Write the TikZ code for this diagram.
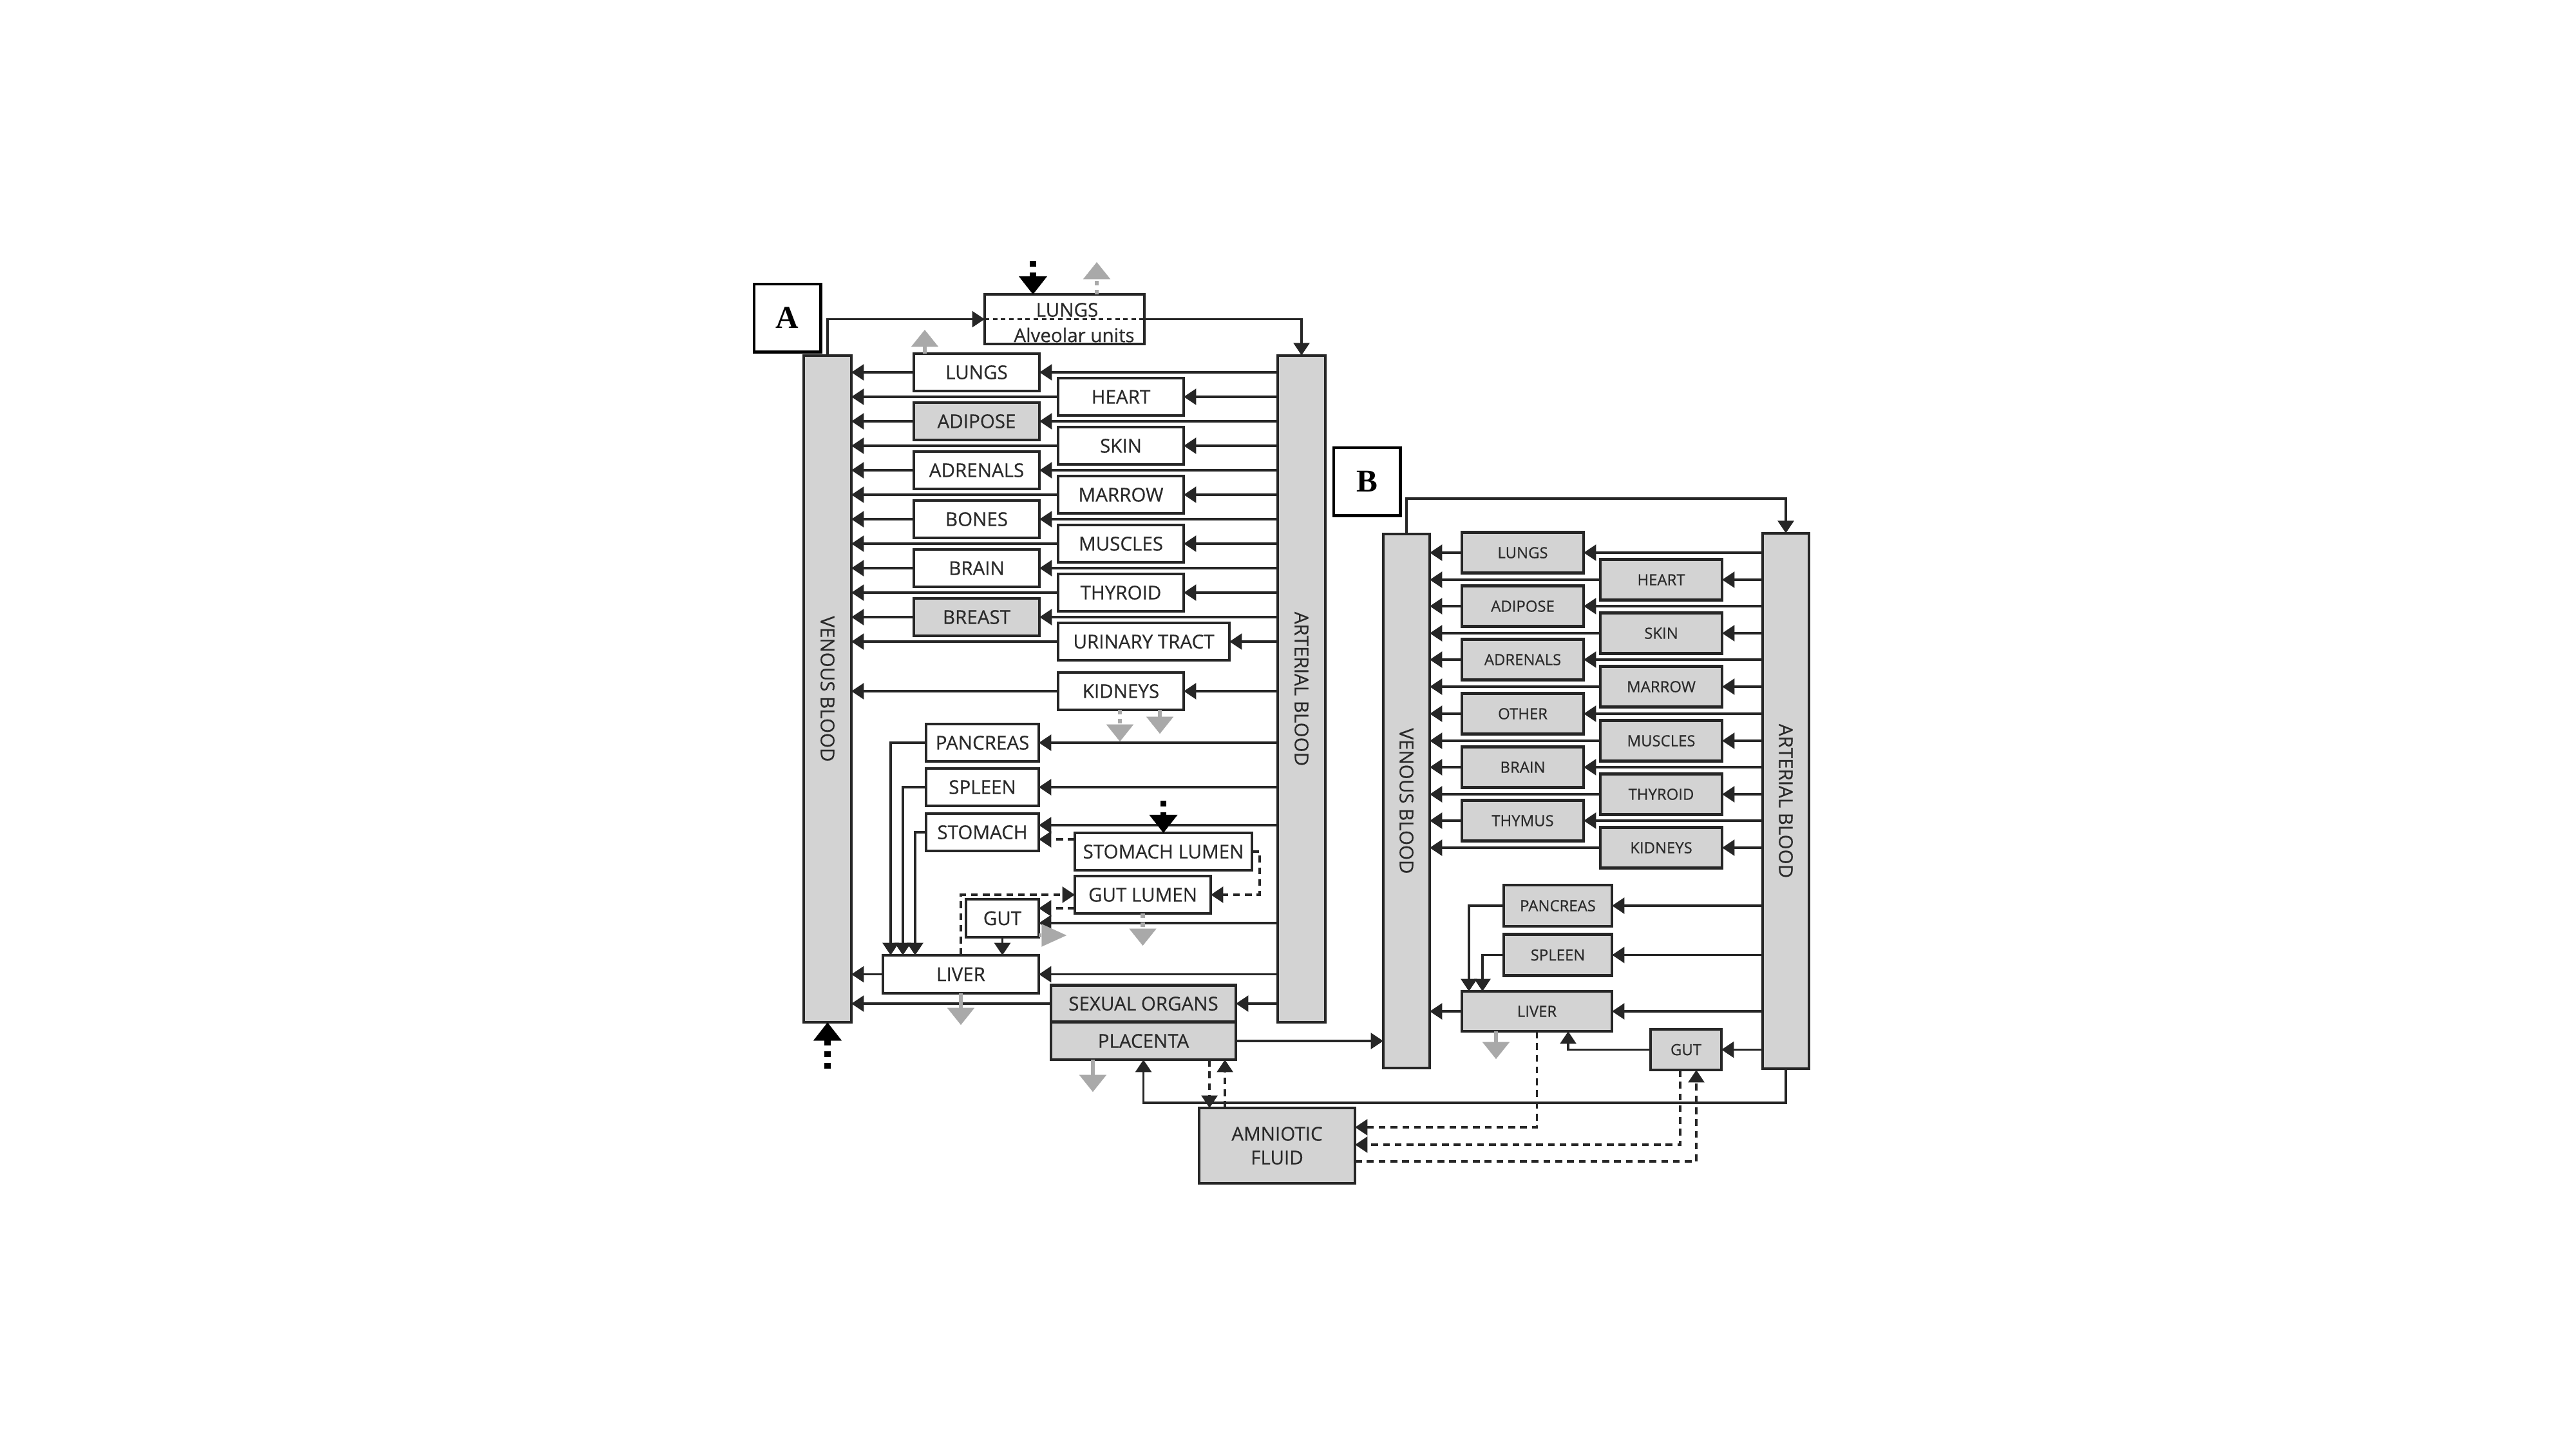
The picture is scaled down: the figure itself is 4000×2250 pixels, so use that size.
\documentclass[tikz,border=0pt]{standalone}
\usepackage{fontspec}
\newfontfamily\osans[FakeBold=0.5]{Open Sans}
\newfontfamily\tnr{Liberation Serif}
\usetikzlibrary{arrows.meta}
\definecolor{lc}{HTML}{262626}
\definecolor{boxg}{HTML}{D3D3D3}
\definecolor{gc}{HTML}{A9A9A9}
\definecolor{tc}{HTML}{2A2A2A}
\begin{document}
\begin{tikzpicture}[x=0.01cm,y=-0.01cm,
  every node/.style={inner sep=0pt, outer sep=0pt},
  fA/.style={font=\osans\fontsize{8.4}{10.5}\selectfont, text=tc},
  ob/.style={draw=lc, line width=1.2pt, fA},
  wA/.style={ob, fill=white, minimum width=1.95cm, minimum height=0.58cm},
  gA/.style={wA, fill=boxg},
  gB/.style={ob, fill=boxg, minimum width=1.89cm, minimum height=0.63cm, font=\osans\fontsize{6.8}{8}\selectfont},
  bar/.style={draw=lc, fill=boxg, line width=1.1pt},
  bartext/.style={rotate=-90, fA},
  lab/.style={draw=black, line width=1.4pt, fill=white, minimum width=1.03cm, minimum height=1.05cm, font=\tnr\bfseries\fontsize{14}{16}\selectfont},
  ln/.style={draw=lc, line width=1.1pt},
  arr/.style={ln, -{Triangle[length=5.5pt,width=7pt]}},
  darr/.style={arr, dash pattern=on 3pt off 2.2pt},
  garr/.style={draw=gc, line width=1.8pt, -{Triangle[length=7.5pt,width=12pt,line width=0.1pt]}},
  gdot/.style={dash pattern=on 2pt off 2pt},
  barr/.style={draw=black, line width=2.6pt, dash pattern=on 2.6pt off 2.6pt, -{Triangle[length=8pt,width=12.5pt,line width=0.1pt]}},
]
\useasboundingbox (0,0) rectangle (4000,2250);

% ---------------- A ----------------
\node[lab] (Alab) at (1222.5,493.5) {A};
\node[ob, fill=white, minimum width=2.48cm, minimum height=0.77cm] (lungsTop) at (1653,495.5) {};
\node[fA] (lungsTopT) at (1657,481) {LUNGS};
\node[fA] (alvT) at (1668,520) {Alveolar units};

\node[bar, minimum width=0.74cm, minimum height=10.35cm] (venA) at (1285,1069.5) {};
\node[bartext] (venAT) at (venA.center) {VENOUS BLOOD};
\node[bar, minimum width=0.74cm, minimum height=10.35cm] (artA) at (2021,1069.5) {};
\node[bartext] (artAT) at (artA.center) {ARTERIAL BLOOD};

\node[wA] (lungsA) at (1516.5,578) {LUNGS};
\node[gA] (adiposeA) at (1516.5,654) {ADIPOSE};
\node[wA] (adrenalsA) at (1516.5,730) {ADRENALS};
\node[wA] (bonesA) at (1516.5,806) {BONES};
\node[wA] (brainA) at (1516.5,882) {BRAIN};
\node[gA] (breastA) at (1516.5,958) {BREAST};
\node[wA] (heartA) at (1740.5,616) {HEART};
\node[wA] (skinA) at (1740.5,692) {SKIN};
\node[wA] (marrowA) at (1740.5,768) {MARROW};
\node[wA] (musclesA) at (1740.5,844) {MUSCLES};
\node[wA] (thyroidA) at (1740.5,920) {THYROID};
\node[wA, minimum width=2.66cm] (urinaryA) at (1776,996) {URINARY TRACT};
\node[wA] (kidneysA) at (1740.5,1073) {KIDNEYS};
\node[wA, minimum width=1.75cm] (pancA) at (1525.5,1153) {PANCREAS};
\node[wA, minimum width=1.75cm] (spleenA) at (1525.5,1222) {SPLEEN};
\node[wA, minimum width=1.75cm] (stomA) at (1525.5,1292) {STOMACH};
\node[wA, minimum width=2.75cm] (stomLum) at (1806.5,1322) {STOMACH LUMEN};
\node[wA, minimum width=2.11cm] (gutLum) at (1774.5,1389) {GUT LUMEN};
\node[wA, minimum width=1.13cm, minimum height=0.59cm] (gutA) at (1556.5,1425.5) {GUT};
\node[wA, minimum width=2.42cm, minimum height=0.59cm] (liverA) at (1492,1512.5) {LIVER};
\node[gA, minimum width=2.87cm, minimum height=0.57cm] (sexA) at (1775.5,1558) {SEXUAL ORGANS};
\node[gA, minimum width=2.87cm, minimum height=0.58cm] (placenta) at (1775.5,1616) {PLACENTA};
\node[gA, minimum width=2.42cm, minimum height=1.17cm, align=center] (amnio) at (1983,1778.5) {AMNIOTIC\\FLUID};

% ---------------- B ----------------
\node[lab] (Blab) at (2122.5,747.5) {B};
\node[bar, minimum width=0.72cm, minimum height=8.29cm] (venB) at (2184,1243.5) {};
\node[bartext] (venBT) at (venB.center) {VENOUS BLOOD};
\node[bar, minimum width=0.72cm, minimum height=8.31cm] (artB) at (2773,1243.5) {};
\node[bartext] (artBT) at (artB.center) {ARTERIAL BLOOD};

\node[gB] (lungsB) at (2364.5,858) {LUNGS};
\node[gB] (adiposeB) at (2364.5,941) {ADIPOSE};
\node[gB] (adrenalsB) at (2364.5,1024) {ADRENALS};
\node[gB] (otherB) at (2364.5,1108) {OTHER};
\node[gB] (brainB) at (2364.5,1191) {BRAIN};
\node[gB] (thymusB) at (2364.5,1274) {THYMUS};
\node[gB] (heartB) at (2579.5,900) {HEART};
\node[gB] (skinB) at (2579.5,983) {SKIN};
\node[gB] (marrowB) at (2579.5,1066) {MARROW};
\node[gB] (musclesB) at (2579.5,1150) {MUSCLES};
\node[gB] (thyroidB) at (2579.5,1233) {THYROID};
\node[gB] (kidneysB) at (2579.5,1316) {KIDNEYS};
\node[gB, minimum width=1.68cm, minimum height=0.64cm] (pancB) at (2419,1406) {PANCREAS};
\node[gB, minimum width=1.68cm, minimum height=0.64cm] (spleenB) at (2419,1482.5) {SPLEEN};
\node[gB, minimum width=2.33cm, minimum height=0.62cm] (liverB) at (2386.5,1570) {LIVER};
\node[gB, minimum width=1.10cm, minimum height=0.63cm] (gutB) at (2618,1629.5) {GUT};

% ---------------- connectors A ----------------
\draw[arr] (venA.north) |- (lungsTop.west);
\draw[lc, line width=0.8pt, dash pattern=on 2pt off 1.6pt] (lungsTop.west) -- (lungsTop.east);
\draw[arr] (lungsTop.east) -| (artA.north);

\foreach \n in {lungsA,adiposeA,adrenalsA,bonesA,brainA,breastA,heartA,skinA,marrowA,musclesA,thyroidA,urinaryA,kidneysA,liverA,sexA}{
  \draw[arr] (artA.west |- \n.east) -- (\n.east);
  \draw[arr] (\n.west) -- (venA.east |- \n.west);
}
\draw[arr] (artA.west |- pancA.east) -- (pancA.east);
\draw[arr] (artA.west |- spleenA.east) -- (spleenA.east);
\draw[arr] (pancA.west) -| ([xshift=0.12cm]liverA.north west);
\draw[arr] (spleenA.west) -| ([xshift=0.31cm]liverA.north west);
\draw[arr] (stomA.west) -| ([xshift=0.50cm]liverA.north west);

\coordinate (stIn) at ([yshift=0.11cm]stomA.east);
\draw[arr] (artA.west |- stIn) -- (stIn);
\coordinate (stOut) at ([yshift=0.19cm]stomLum.west);
\draw[darr] (stOut) -- (stomA.east |- stOut);
\draw[darr] (stomLum.east) -- ++(12,0) |- (gutLum.east);
\draw[darr] (liverA.north) |- (gutLum.west);
\coordinate (glOut) at ([yshift=-0.21cm]gutLum.west);
\draw[darr] (glOut) -- (gutA.east |- glOut);
\coordinate (gIn) at ([yshift=-0.075cm]gutA.east);
\draw[arr] (artA.west |- gIn) -- (gIn);
\draw[arr] (gutA.south) -- (gutA.south |- liverA.north);

\draw[arr] (placenta.east) -- (venB.west |- placenta.east);
\draw[arr] (artB.south) -- ++(0,53) -| (placenta.south);
\coordinate (pd1) at ([xshift=-0.41cm]placenta.south east);
\draw[darr] (pd1) -- (pd1 |- amnio.north);
\coordinate (pd2) at ([xshift=-0.17cm]placenta.south east);
\draw[darr] (pd2 |- amnio.north) -- (pd2);

% ---------------- connectors B ----------------
\draw[arr] (venB.north) -- ++(0,-55) -| (artB.north);
\foreach \n in {lungsB,adiposeB,adrenalsB,otherB,brainB,thymusB,heartB,skinB,marrowB,musclesB,thyroidB,kidneysB,liverB}{
  \draw[arr] (artB.west |- \n.east) -- (\n.east);
  \draw[arr] (\n.west) -- (venB.east |- \n.west);
}
\foreach \n in {pancB,spleenB,gutB}{
  \draw[arr] (artB.west |- \n.east) -- (\n.east);
}
\draw[arr] (pancB.west) -| ([xshift=0.11cm]liverB.north west);
\draw[arr] (spleenB.west) -| ([xshift=0.32cm]liverB.north west);
\draw[arr] (gutB.west) -| ([xshift=1.65cm]liverB.south west);

\draw[darr] (liverB.south) |- ([yshift=0.285cm]amnio.east);
\coordinate (gb1) at ([xshift=-0.09cm]gutB.south);
\draw[darr] (gb1) |- ([yshift=0.015cm]amnio.east);
\coordinate (gb2) at ([xshift=0.16cm]gutB.south);
\draw[darr] ([yshift=-0.245cm]amnio.east) -| (gb2);

% ---------------- gray output arrows ----------------
\draw[garr, gdot] ([xshift=0.5cm]lungsTop.north) -- ++(0,-50);
\draw[garr] ([xshift=-0.805cm]lungsA.north) -- ++(0,-37);
\draw[garr, gdot] ([xshift=-0.015cm]kidneysA.south) -- ++(0,49);
\draw[garr] ([xshift=0.605cm]kidneysA.south) -- ++(0,37);
\draw[draw=gc, line width=1.8pt, -{Triangle[length=11pt,width=10pt,line width=0.1pt]}] ([yshift=0.03cm]gutA.south east) -- ++(43,0);
\draw[garr, gdot] (gutLum.south) -- ++(0,50);
\draw[garr] (liverA.south) -- ++(0,49);
\draw[garr] ([xshift=-0.785cm]placenta.south) -- ++(0,50);
\draw[garr] ([xshift=-0.635cm]liverB.south) -- ++(0,43);

% ---------------- black input arrows ----------------
\coordinate (bi1) at ([xshift=-0.49cm]lungsTop.north);
\draw[barr] ([yshift=0.52cm]bi1) -- (bi1);
\draw[barr] ([yshift=0.5cm]stomLum.north) -- (stomLum.north);
\draw[barr] ([yshift=-0.72cm]venA.south) -- (venA.south);
\end{tikzpicture}
\end{document}
